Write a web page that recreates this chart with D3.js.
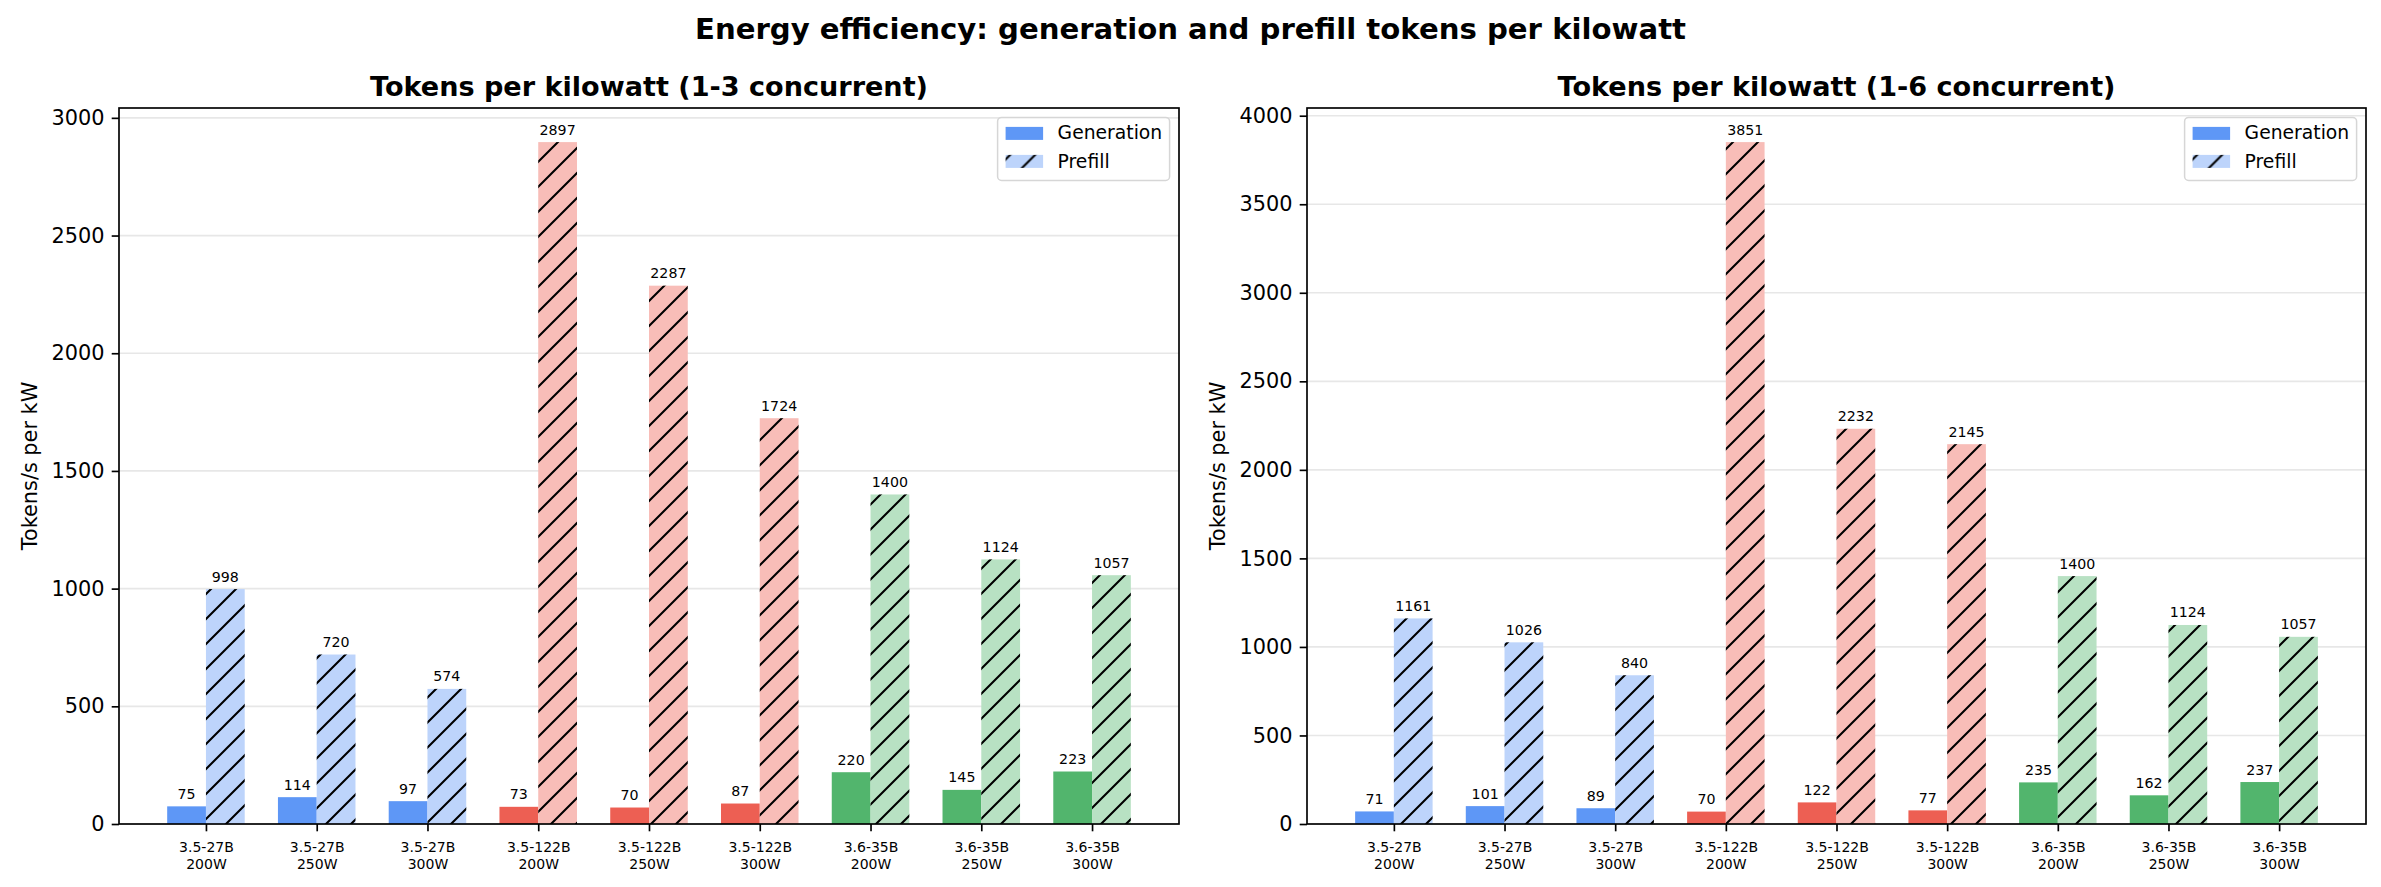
<!DOCTYPE html>
<html>
<head>
<meta charset="utf-8">
<script src="https://cdn.jsdelivr.net/npm/d3@7/dist/d3.min.js"></script>
<style>
  body { margin: 0; background: #fff; }
  svg text { font-family: "DejaVu Sans", sans-serif; }
</style>
</head>
<body>
<script>
// data
var models = ["3.5-27B", "3.5-27B", "3.5-27B", "3.5-122B", "3.5-122B", "3.5-122B", "3.6-35B", "3.6-35B", "3.6-35B"];
var powers = ["200W", "250W", "300W", "200W", "250W", "300W", "200W", "250W", "300W"];
var gen3 = [75, 114, 97, 73, 70, 87, 220, 145, 223];
var pre3 = [998, 720, 574, 2897, 2287, 1724, 1400, 1124, 1057];
var gen6 = [71, 101, 89, 70, 122, 77, 235, 162, 237];
var pre6 = [1161, 1026, 840, 3851, 2232, 2145, 1400, 1124, 1057];
var ticks3 = [0, 500, 1000, 1500, 2000, 2500, 3000];
var ticks6 = [0, 500, 1000, 1500, 2000, 2500, 3000, 3500, 4000];

var genColor = {"3.5-27B": "#5e97f6", "3.5-122B": "#ed5f53", "3.6-35B": "#52b56d"};
var preColor = {"3.5-27B": "#bdd4fb", "3.5-122B": "#f8bdb8", "3.6-35B": "#b8e1c3"};

var W = 2381, H = 887;
var svg = d3.select("body").append("svg")
  .attr("width", W).attr("height", H);
svg.append("rect").attr("width", W).attr("height", H).attr("fill", "#fff");

var defs = svg.append("defs");
var pat = defs.append("pattern")
  .attr("id", "hatch")
  .attr("patternUnits", "userSpaceOnUse")
  .attr("width", 25).attr("height", 25);
pat.append("path")
  .attr("d", "M0,25 L25,0 M-2,2 L2,-2 M23,27 L27,23")
  .attr("stroke", "#000").attr("stroke-width", 2.08);

svg.append("text")
  .attr("x", W / 2).attr("y", 39)
  .attr("text-anchor", "middle")
  .attr("font-size", 29.17).attr("font-weight", "bold")
  .text("Energy efficiency: generation and prefill tokens per kilowatt");

function drawPanel(cfg) {
  var left = cfg.left, right = cfg.right, top = 108, bottom = 824;
  var x = d3.scaleLinear().domain([-0.785, 8.785]).range([left, right]);
  var ymax = d3.max(cfg.gen.concat(cfg.pre)) * 1.05;
  var y = d3.scaleLinear().domain([0, ymax]).range([bottom, top]);
  var bw = x(0.35) - x(0);
  var g = svg.append("g");

  // grid
  g.selectAll(".grid").data(cfg.ticks).enter().append("line")
    .attr("x1", left).attr("x2", right)
    .attr("y1", function(d) { return y(d); })
    .attr("y2", function(d) { return y(d); })
    .attr("stroke", "#e7e7e7").attr("stroke-width", 1.67);

  var idx = d3.range(models.length);

  g.selectAll(".gen").data(idx).enter().append("rect")
    .attr("x", function(i) { return x(i - 0.35); })
    .attr("width", bw)
    .attr("y", function(i) { return y(cfg.gen[i]); })
    .attr("height", function(i) { return y(0) - y(cfg.gen[i]); })
    .attr("fill", function(i) { return genColor[models[i]]; });

  g.selectAll(".pre").data(idx).enter().append("rect")
    .attr("x", function(i) { return x(i); })
    .attr("width", bw)
    .attr("y", function(i) { return y(cfg.pre[i]); })
    .attr("height", function(i) { return y(0) - y(cfg.pre[i]); })
    .attr("fill", function(i) { return preColor[models[i]]; });

  g.selectAll(".preh").data(idx).enter().append("rect")
    .attr("x", function(i) { return x(i); })
    .attr("width", bw)
    .attr("y", function(i) { return y(cfg.pre[i]); })
    .attr("height", function(i) { return y(0) - y(cfg.pre[i]); })
    .attr("fill", "url(#hatch)");

  // value labels
  g.selectAll(".gl").data(idx).enter().append("text")
    .attr("x", function(i) { return x(i - 0.175); })
    .attr("y", function(i) { return y(cfg.gen[i]) - 7.5; })
    .attr("text-anchor", "middle").attr("font-size", 14.2)
    .text(function(i) { return cfg.gen[i]; });
  g.selectAll(".pl").data(idx).enter().append("text")
    .attr("x", function(i) { return x(i + 0.175); })
    .attr("y", function(i) { return y(cfg.pre[i]) - 7.5; })
    .attr("text-anchor", "middle").attr("font-size", 14.2)
    .text(function(i) { return cfg.pre[i]; });

  // y axis
  var ya = g.append("g").attr("transform", "translate(" + left + ",0)")
    .call(d3.axisLeft(y).tickValues(cfg.ticks).tickSize(7.3).tickPadding(7.3)
      .tickFormat(d3.format("d")));
  ya.select(".domain").remove();
  ya.selectAll("line").attr("stroke", "#000").attr("stroke-width", 1.67);
  ya.selectAll("text").attr("font-size", 20.83).attr("fill", "#000")
    .attr("font-family", "DejaVu Sans");

  // x axis
  var xa = g.append("g").attr("transform", "translate(0," + bottom + ")")
    .call(d3.axisBottom(x).tickValues(idx).tickSize(7.3).tickFormat(""));
  xa.select(".domain").remove();
  xa.selectAll("line").attr("stroke", "#000").attr("stroke-width", 1.67);
  xa.selectAll(".tick").append("text")
    .attr("text-anchor", "middle").attr("font-size", 14).attr("fill", "#000")
    .attr("font-family", "DejaVu Sans")
    .each(function(i) {
      var t = d3.select(this);
      t.append("tspan").attr("x", 0).attr("y", 28).text(models[i]);
      t.append("tspan").attr("x", 0).attr("y", 44.5).text(powers[i]);
    });

  // spines
  g.append("rect")
    .attr("x", left).attr("y", top)
    .attr("width", right - left).attr("height", bottom - top)
    .attr("fill", "none").attr("stroke", "#000").attr("stroke-width", 1.67);

  // title
  g.append("text")
    .attr("x", (left + right) / 2).attr("y", 95.5)
    .attr("text-anchor", "middle")
    .attr("font-size", 27.08).attr("font-weight", "bold")
    .text(cfg.title);

  // y label
  g.append("text")
    .attr("transform", "translate(" + (left - 82) + "," + ((top + bottom) / 2) + ") rotate(-90)")
    .attr("text-anchor", "middle").attr("font-size", 20.83)
    .text("Tokens/s per kW");

  // legend
  var lw = 172, lh = 63;
  var lx = right - 9.4 - lw, ly = top + 9.4;
  var lg = g.append("g").attr("transform", "translate(" + lx + "," + ly + ")");
  lg.append("rect").attr("width", lw).attr("height", lh).attr("rx", 4)
    .attr("fill", "#fff").attr("fill-opacity", 0.8)
    .attr("stroke", "#d6d6d6").attr("stroke-width", 1.5);
  lg.append("rect").attr("x", 8).attr("y", 9.5).attr("width", 37.5).attr("height", 13)
    .attr("fill", genColor["3.5-27B"]);
  lg.append("rect").attr("x", 8).attr("y", 37.5).attr("width", 37.5).attr("height", 13)
    .attr("fill", preColor["3.5-27B"]);
  lg.append("rect").attr("x", 8).attr("y", 37.5).attr("width", 37.5).attr("height", 13)
    .attr("fill", "url(#hatch)");
  lg.append("text").attr("x", 60).attr("y", 22).attr("font-size", 18.75).text("Generation");
  lg.append("text").attr("x", 60).attr("y", 50.5).attr("font-size", 18.75).text("Prefill");
}

drawPanel({left: 119, right: 1179, title: "Tokens per kilowatt (1-3 concurrent)", gen: gen3, pre: pre3, ticks: ticks3});
drawPanel({left: 1307, right: 2366, title: "Tokens per kilowatt (1-6 concurrent)", gen: gen6, pre: pre6, ticks: ticks6});
</script>
</body>
</html>
